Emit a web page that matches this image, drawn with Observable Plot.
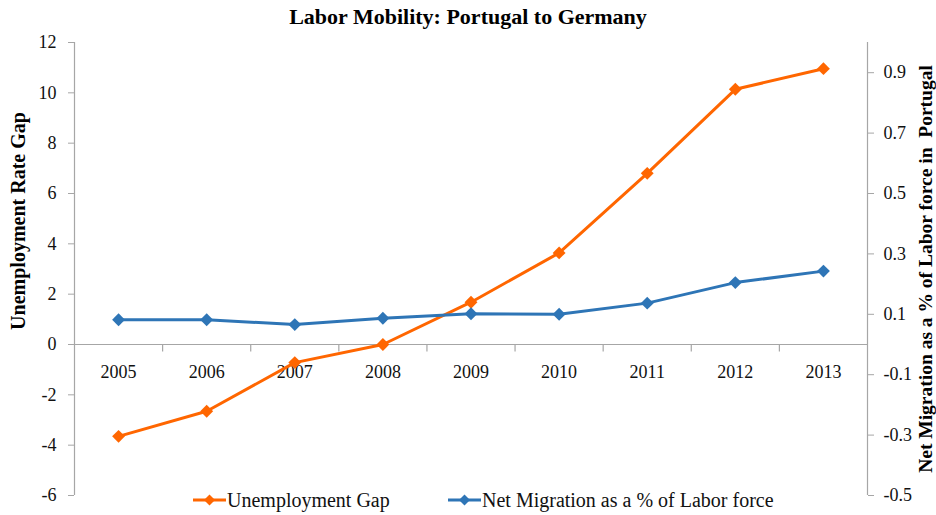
<!DOCTYPE html>
<html><head><meta charset="utf-8">
<script src="https://cdn.jsdelivr.net/npm/d3@7"></script>
<script src="https://cdn.jsdelivr.net/npm/@observablehq/plot@0.6"></script>
<style>
body{margin:0;background:#fff;font-family:"Liberation Serif",serif;}
#wrap{position:relative;width:936px;height:515px;overflow:hidden;background:#fff}
#title{height:34px;box-sizing:border-box;padding-top:5px;text-align:center;font-family:"Liberation Serif",serif;font-weight:bold;font-size:22px;line-height:24px;color:#000}
#chart svg text{white-space:pre}
.leg{position:absolute;top:489px;height:22px;display:flex;align-items:center;font-family:"Liberation Serif",serif;font-size:20px;line-height:22px;color:#111;white-space:nowrap}
.leg span{font-family:"Liberation Serif",serif}
.leg svg{display:block;margin-right:1px}
</style></head>
<body>
<div id="wrap">
  <div id="title"></div>
  <div id="chart"></div>
  <div id="legend"></div>
</div>
<script>
const titleText = "Labor Mobility: Portugal to Germany";
const years = [2005, 2006, 2007, 2008, 2009, 2010, 2011, 2012, 2013];
const unemploymentGap = [-3.65, -2.65, -0.72, 0.0, 1.68, 3.64, 6.80, 10.14, 10.96];
const netMigration = [0.082, 0.082, 0.066, 0.087, 0.102, 0.100, 0.137, 0.205, 0.243];
const leftTicks = [-6, -4, -2, 0, 2, 4, 6, 8, 10, 12];
const rightTicks = [-0.5, -0.3, -0.1, 0.1, 0.3, 0.5, 0.7, 0.9];
const leftDomain = [-6, 12];
const rightDomain = [-0.5, 1.0];
const seriesNames = ["Unemployment Gap", "Net Migration as a % of Labor force"];
const colors = ["#FF6600", "#2E75B6"];
const leftLabel = "Unemployment Rate Gap";
const rightLabel = "Net Migration as a % of Labor force in  Portugal";

const ratio = (leftDomain[1] - leftDomain[0]) / (rightDomain[1] - rightDomain[0]);
const gapData = years.map((year, i) => ({year, value: unemploymentGap[i]}));
const migData = years.map((year, i) => ({year, value: netMigration[i] * ratio}));
const xDomain = [years[0] - 0.5, years[years.length - 1] + 0.5];
const boundaries = years.slice(1).map(y => y - 0.5);
const axisGray = "#A6A6A6";

const tickDown = {draw(ctx) { ctx.moveTo(0, 0); ctx.lineTo(0, 7); }};

document.getElementById("title").textContent = titleText;

const chart = Plot.plot({
  width: 936,
  height: 481,
  marginLeft: 74,
  marginRight: 69,
  marginTop: 8,
  marginBottom: 20,
  style: {fontFamily: "'Liberation Serif', serif", background: "#fff", overflow: "visible"},
  x: {domain: xDomain, axis: null},
  y: {domain: leftDomain},
  marks: [
    Plot.ruleX([xDomain[0], xDomain[1]], {stroke: axisGray, strokeWidth: 1.2}),
    Plot.ruleY([0], {stroke: axisGray, strokeWidth: 1.2}),
    Plot.dot(boundaries, {x: d => d, y: 0, symbol: tickDown, stroke: axisGray, fill: "none", strokeWidth: 1.2}),
    Plot.axisY(leftTicks, {anchor: "left", tickSize: 6, tickPadding: 12, tickFormat: d => String(d), fontSize: 18, color: "#111", stroke: axisGray, label: null}),
    Plot.axisY(rightTicks.map(d => d * ratio), {anchor: "right", tickSize: 6, tickPadding: 10, tickFormat: d => (d / ratio).toFixed(1), fontSize: 18, color: "#111", stroke: axisGray, label: null}),
    Plot.text(years, {x: d => d, y: 0, dy: 28, text: d => String(d), fontSize: 18, fill: "#111"}),
    Plot.text([leftLabel], {frameAnchor: "left", textAnchor: "middle", text: d => d, dx: -56, dy: -48, rotate: -90, fontSize: 20, fontWeight: "bold", fill: "#000"}),
    Plot.text([rightLabel], {frameAnchor: "right", textAnchor: "middle", text: d => d, dx: 58, dy: 0, rotate: -90, fontSize: 19.5, fontWeight: "bold", fill: "#000"}),
    Plot.line(gapData, {x: "year", y: "value", stroke: colors[0], strokeWidth: 3}),
    Plot.dot(gapData, {x: "year", y: "value", symbol: "diamond2", r: 5.8, fill: colors[0]}),
    Plot.line(migData, {x: "year", y: "value", stroke: colors[1], strokeWidth: 3}),
    Plot.dot(migData, {x: "year", y: "value", symbol: "diamond2", r: 5.8, fill: colors[1]})
  ]
});
document.getElementById("chart").appendChild(chart);

// legend
const legend = document.getElementById("legend");
const legendLeft = [193, 448];
seriesNames.forEach((name, i) => {
  const item = document.createElement("div");
  item.className = "leg";
  item.style.left = legendLeft[i] + "px";
  item.innerHTML = `<svg width="33" height="14"><line x1="0" x2="33" y1="7" y2="7" stroke="${colors[i]}" stroke-width="3"/><path d="M16.5,1.5L22,7L16.5,12.5L11,7Z" fill="${colors[i]}"/></svg><span>${name}</span>`;
  legend.appendChild(item);
});
</script>
</body></html>
